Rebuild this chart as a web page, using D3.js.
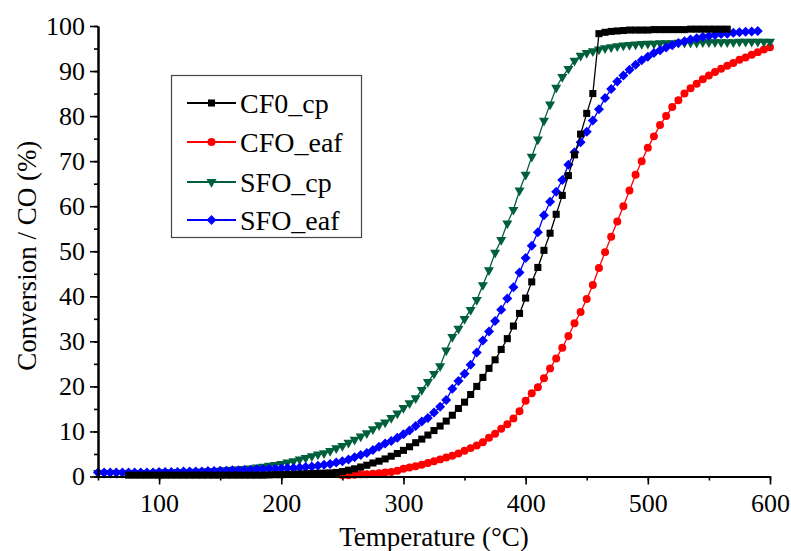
<!DOCTYPE html>
<html>
<head>
<meta charset="utf-8">
<script src="https://cdn.jsdelivr.net/npm/d3@7"></script>
<style>
  body { margin: 0; background: #fff; }
  svg text { font-family: "Liberation Serif", serif; fill: #000; }
</style>
</head>
<body>
<div id="container"></div>
<script>
// temperatures (°C) at which the points were taken
const temps = [
  50, 55, 60, 65, 70, 75, 80, 85, 90, 95,
  100, 105, 110, 115, 120, 125, 130, 135, 140, 145,
  150, 155, 160, 165, 170, 175, 180, 185, 190, 195,
  200, 205, 210, 215, 220, 225, 230, 235, 240, 245,
  250, 255, 260, 265, 270, 275, 280, 285, 290, 295,
  300, 305, 310, 315, 320, 325, 330, 335, 340, 345,
  350, 355, 360, 365, 370, 375, 380, 385, 390, 395,
  400, 405, 410, 415, 420, 425, 430, 435, 440, 445,
  450, 455, 460, 465, 470, 475, 480, 485, 490, 495,
  500, 505, 510, 515, 520, 525, 530, 535, 540, 545,
  550, 555, 560, 565, 570, 575, 580, 585, 590, 595,
  600]

const cf0Cp = [
  null, null, null, null, null, 0.3, 0.3, 0.3, 0.3, 0.3,
  0.3, 0.3, 0.3, 0.3, 0.3, 0.3, 0.3, 0.3, 0.3, 0.3,
  0.3, 0.3, 0.3, 0.3, 0.3, 0.3, 0.3, 0.3, 0.35, 0.4,
  0.4, 0.45, 0.5, 0.55, 0.6, 0.65, 0.7, 0.75, 0.8, 0.9,
  1.1, 1.4, 1.7, 2.1, 2.5, 3.0, 3.4, 3.9, 4.5, 5.1,
  5.8, 6.6, 7.5, 8.3, 9.2, 10.2, 11.2, 12.3, 13.6, 15.1,
  16.5, 18.2, 20.0, 22.0, 24.0, 25.9, 28.2, 30.6, 33.4, 36.2,
  39.6, 43.2, 46.4, 50.2, 54.0, 58.2, 62.4, 66.8, 71.4, 76.0,
  80.6, 85.0, 98.3, 98.6, 98.8, 98.9, 99.0, 99.1, 99.1, 99.1,
  99.1, 99.2, 99.2, 99.2, 99.2, 99.2, 99.2, 99.3, 99.3, 99.3,
  99.3, 99.3, 99.3, 99.3, null, null, null, null, null, null,
  null]

const cfoEaf = [
  null, null, null, null, null, null, null, null, null, null,
  null, null, null, null, null, null, null, null, null, null,
  null, null, null, null, null, null, null, null, null, null,
  null, null, null, null, null, null, null, null, null, null,
  0.3, 0.3, 0.4, 0.5, 0.5, 0.6, 0.7, 0.9, 1.0, 1.3,
  1.7, 2.0, 2.3, 2.6, 3.0, 3.4, 3.8, 4.2, 4.6, 5.1,
  5.7, 6.3, 6.9, 7.6, 8.6, 9.5, 10.6, 11.6, 12.9, 14.5,
  16.8, 18.5, 19.8, 21.8, 24.0, 26.2, 28.6, 31.2, 34.0, 36.5,
  39.4, 42.5, 46.3, 49.8, 53.2, 56.6, 60.0, 63.5, 67.0, 70.0,
  73.0, 75.5, 78.0, 80.0, 82.0, 83.5, 85.0, 86.2, 87.2, 88.2,
  89.0, 89.8, 90.5, 91.2, 91.8, 92.5, 93.0, 93.6, 94.2, 94.8,
  95.3]

const sfoCp = [
  0.8, 0.8, 0.8, 0.8, 0.8, 0.8, 0.8, 0.8, 0.8, 0.8,
  0.9, 0.9, 0.9, 1.0, 1.0, 1.0, 1.1, 1.1, 1.2, 1.2,
  1.3, 1.4, 1.5, 1.6, 1.7, 1.8, 2.0, 2.2, 2.4, 2.6,
  2.8, 3.1, 3.4, 3.8, 4.1, 4.5, 4.9, 5.2, 5.7, 6.3,
  6.8, 7.5, 8.2, 8.9, 9.6, 10.5, 11.4, 12.0, 13.0, 14.0,
  15.2, 16.3, 17.4, 19.2, 21.0, 22.8, 24.5, 28.0, 31.0, 32.8,
  35.0, 37.0, 39.2, 42.5, 45.8, 49.7, 52.5, 56.2, 59.2, 63.5,
  67.0, 71.0, 74.8, 79.0, 82.6, 86.3, 88.7, 90.5, 92.3, 93.4,
  94.0, 94.4, 94.8, 95.1, 95.3, 95.5, 95.7, 95.8, 95.9, 96.0,
  96.1, 96.1, 96.2, 96.2, 96.2, 96.3, 96.3, 96.3, 96.3, 96.4,
  96.4, 96.4, 96.4, 96.4, 96.4, 96.5, 96.5, 96.5, 96.5, 96.5,
  96.5]

const sfoEaf = [
  0.9, 0.9, 0.9, 0.9, 0.9, 0.9, 0.9, 0.9, 0.9, 0.9,
  1.0, 1.0, 1.0, 1.0, 1.1, 1.1, 1.1, 1.1, 1.2, 1.2,
  1.3, 1.3, 1.4, 1.4, 1.5, 1.5, 1.6, 1.6, 1.7, 1.7,
  1.8, 1.9, 1.9, 2.0, 2.1, 2.2, 2.4, 2.6, 2.8, 3.1,
  3.4, 3.8, 4.3, 4.8, 5.2, 5.9, 6.6, 7.3, 7.9, 8.6,
  9.4, 10.2, 11.2, 12.2, 13.0, 14.2, 15.5, 17.0, 19.5, 21.2,
  22.8, 24.8, 27.5, 30.2, 32.2, 34.5, 37.0, 39.5, 42.0, 45.3,
  48.5, 51.2, 54.2, 58.0, 61.0, 63.2, 65.8, 69.2, 72.0, 74.2,
  76.5, 79.0, 81.5, 84.0, 86.0, 87.7, 89.0, 90.3, 91.4, 92.4,
  93.2, 94.0, 94.6, 95.2, 95.7, 96.2, 96.6, 97.0, 97.3, 97.6,
  97.8, 98.0, 98.2, 98.3, 98.5, 98.6, 98.7, 98.8, 98.9, null,
  null]

const seriesNames = ["CF0_cp", "CFO_eaf", "SFO_cp", "SFO_eaf"]
const seriesValues = [cf0Cp, cfoEaf, sfoCp, sfoEaf]
const colors = ["#000000", "#ff0000", "#00603c", "#0000ff"]

const xTicks = [100, 200, 300, 400, 500, 600]
const yTicks = [0, 10, 20, 30, 40, 50, 60, 70, 80, 90, 100]

const width = 791
const height = 551

const xScale = d3.scaleLinear().domain([50, 600]).range([98, 770])
const yScale = d3.scaleLinear().domain([0, 100]).range([476.5, 26])

const svg = d3.select("#container").append("svg")
              .attr("width", width)
              .attr("height", height)

// marker shape per series
const symbols = [
  d3.symbol().type(d3.symbolSquare).size(50),
  d3.symbol().type(d3.symbolCircle).size(50),
  d3.symbol().type(d3.symbolTriangle).size(44),
  d3.symbol().type(d3.symbolSquare).size(50)
]
const rotations = [0, 0, 180, 45]

const line = d3.line()
               .defined(d => d.v != null)
               .x(d => xScale(d.t))
               .y(d => yScale(d.v))

// draw order: red, green, blue, black on top
const order = [1, 2, 3, 0]
order.forEach(i => {
  const pts = temps.map((t, j) => ({ t: t, v: seriesValues[i][j] }))
  const g = svg.append("g").attr("class", "series")
  g.append("path")
   .datum(pts)
   .attr("fill", "none")
   .attr("stroke", colors[i])
   .attr("stroke-width", 1.3)
   .attr("d", line)
  g.selectAll("path.mark")
   .data(pts.filter(d => d.v != null))
   .enter()
   .append("path")
   .attr("class", "mark")
   .attr("d", symbols[i])
   .attr("fill", colors[i])
   .attr("transform", d => `translate(${xScale(d.t)},${yScale(d.v)}) rotate(${rotations[i]})`)
})

/* axes */
const xMinor = d3.axisBottom(xScale).tickValues(d3.range(50, 601, 50))
                 .tickSize(4).tickSizeOuter(0).tickFormat("")
const yMinor = d3.axisLeft(yScale).tickValues(d3.range(0, 101, 5))
                 .tickSize(4).tickSizeOuter(0).tickFormat("")
const xAxis = d3.axisBottom(xScale).tickValues(xTicks)
                .tickSize(8).tickSizeOuter(0).tickPadding(9).tickFormat(d3.format("d"))
const yAxis = d3.axisLeft(yScale).tickValues(yTicks)
                .tickSize(8).tickSizeOuter(0).tickPadding(5).tickFormat(d3.format("d"))

const axisY0 = yScale(0)
const axisX0 = xScale(50)

;[xMinor, xAxis].forEach(a => {
  svg.append("g")
     .attr("transform", `translate(0,${axisY0})`)
     .call(a)
})
;[yMinor, yAxis].forEach(a => {
  svg.append("g")
     .attr("transform", `translate(${axisX0},0)`)
     .call(a)
})

svg.selectAll(".domain").attr("stroke", "#000").attr("stroke-width", 2)
svg.selectAll(".tick line").attr("stroke", "#000").attr("stroke-width", 1.6)
svg.selectAll(".tick text")
   .style("font-family", '"Liberation Serif", serif')
   .style("font-size", "26px")
   .attr("fill", "#000")

svg.append("text")
   .attr("x", (xScale(50) + xScale(600)) / 2)
   .attr("y", 546)
   .attr("text-anchor", "middle")
   .style("font-size", "27px")
   .text("Temperature (°C)")

svg.append("text")
   .attr("transform", `translate(36,${yScale(49)}) rotate(-90)`)
   .attr("text-anchor", "middle")
   .style("font-size", "27px")
   .text("Conversion / CO (%)")

/* legend */
const legend = svg.append("g")
legend.append("rect")
      .attr("x", 171.5).attr("y", 75.5)
      .attr("width", 190).attr("height", 162)
      .attr("fill", "#fff")
      .attr("stroke", "#444")
      .attr("stroke-width", 1.2)

const rowY = [103, 142, 182, 220]
seriesNames.forEach((name, i) => {
  legend.append("line")
        .attr("x1", 187).attr("x2", 236)
        .attr("y1", rowY[i]).attr("y2", rowY[i])
        .attr("stroke", colors[i])
        .attr("stroke-width", 1.8)
  legend.append("path")
        .attr("d", symbols[i])
        .attr("fill", colors[i])
        .attr("transform", `translate(211.5,${rowY[i]}) rotate(${rotations[i]})`)
  legend.append("text")
        .attr("x", 240)
        .attr("y", rowY[i] + 10)
        .style("font-size", "28px")
        .text(name)
})
</script>
</body>
</html>
